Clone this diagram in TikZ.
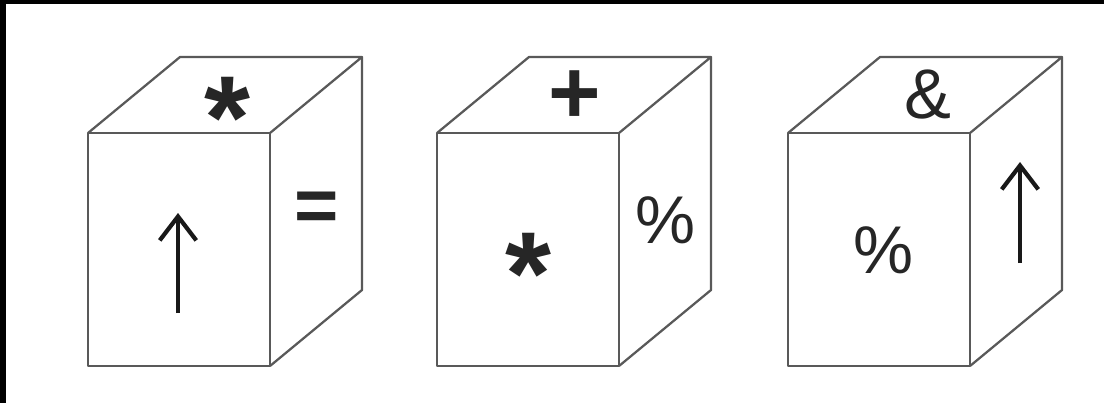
\documentclass[tikz,border=0pt]{standalone}
\usepackage{fontspec}
\setmainfont{Liberation Sans}
\usetikzlibrary{arrows.meta}

\begin{document}
\begin{tikzpicture}[x=0.025cm, y=-0.025cm, edge/.style={black!65, line width=1.6pt, line join=round}, sym/.style={black!85, inner sep=0pt, font=\fontsize{48}{48}\selectfont}, boldsym/.style={sym, font=\fontsize{54}{54}\selectfont\bfseries}, bigstar/.style={sym, font=\fontsize{84}{84}\selectfont\bfseries}, uparr/.style={black!90, line width=3.2pt, -{Straight Barb[length=17pt, width=26pt, line width=3pt]}}]
	\useasboundingbox (0,0) rectangle (1104,403);
	\fill[white] (0,0) rectangle (1104,403);
	\fill[black] (0,0) rectangle (1104,4);
	\fill[black] (0,0) rectangle (6,403);
	% the three cubes
	\foreach \x in {88,437,788} {
		\draw[edge, fill=white] (\x,133) rectangle (\x+182,366);
		\draw[edge] (\x,133) -- (\x+92,57) -- (\x+274,57) -- (\x+182,133);
		\draw[edge] (\x+274,57) -- (\x+274,290) -- (\x+182,366);
	}
	% cube 1
	\node[bigstar] (topA) at (227,118) {*};
	\coordinate (frontA0) at (178,313);
	\coordinate (frontA1) at (178,213);
	\draw[uparr] (frontA0) -- (frontA1);
	\node[boldsym] (sideA) at (317,212) {=};
	% cube 2
	\node[boldsym, font=\fontsize{64}{64}\selectfont\bfseries] (topB) at (575,97) {+};
	\node[bigstar] (frontB) at (528,274) {*};
	\node[sym] (sideB) at (665,220) {\%};
	% cube 3
	\node[sym, font=\fontsize{50}{50}\selectfont] (topC) at (928,95) {\&};
	\node[sym] (frontC) at (883,250) {\%};
	\coordinate (sideC0) at (1020,263);
	\coordinate (sideC1) at (1020,162);
	\draw[uparr] (sideC0) -- (sideC1);
\end{tikzpicture}
\end{document}
